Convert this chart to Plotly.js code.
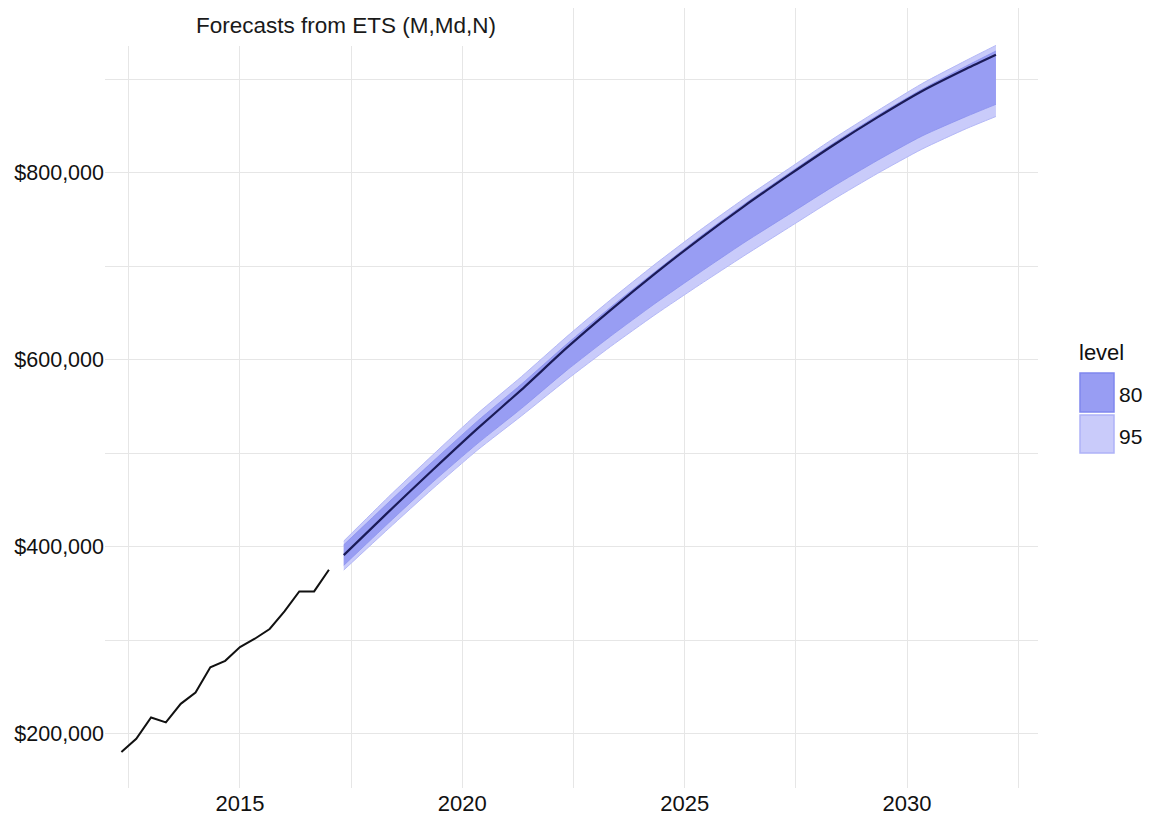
<!DOCTYPE html>
<html>
<head>
<meta charset="utf-8">
<script src="https://cdn.plot.ly/plotly-3.0.1.min.js"></script>
<style>html,body{margin:0;padding:0;background:#fff;}#chart{width:1158px;height:816px;}</style>
</head>
<body>
<div id="chart"></div>
<script>
// ---- Data ----
const histYears = [2012.333, 2012.667, 2013.0, 2013.333, 2013.667, 2014.0, 2014.333, 2014.667, 2015.0, 2015.333, 2015.667, 2016.0, 2016.333, 2016.667, 2017.0];
const histValues = [180400, 194600, 217400, 212100, 232000, 244000, 271000, 278000, 292700, 301600, 312000, 330800, 352200, 352200, 375400];

const fcYears = [2017.333, 2018.333, 2019.333, 2020.333, 2021.333, 2022.333, 2023.333, 2024.333, 2025.333, 2026.333, 2027.333, 2028.333, 2029.333, 2030.333, 2031.333, 2032.0];
const fcMean  = [391000, 437000, 482000, 526000, 568000, 612000, 653000, 692000, 729000, 764000, 797000, 829000, 859000, 887000, 911000, 926000];
const upper95 = [406000, 453000, 498000, 542000, 582000, 624000, 664000, 702000, 738000, 772000, 804000, 836000, 866000, 895000, 920000, 936000];
const upper80 = [402000, 447000, 491000, 534000, 574000, 616000, 656000, 694000, 731000, 766000, 799000, 831000, 861000, 889000, 914000, 930000];
const lower80 = [380000, 425000, 469000, 510000, 548000, 588000, 625000, 660000, 693000, 725000, 755000, 785000, 813000, 839000, 860000, 873000];
const lower95 = [375000, 419000, 462000, 503000, 540000, 578000, 614000, 648000, 680000, 711000, 741000, 771000, 799000, 825000, 847000, 860000];

const levelLabels = ["80", "95"];
const titleText = "Forecasts from ETS (M,Md,N)";
const xTickVals = [2015, 2020, 2025, 2030];
const xTickLabels = ["2015", "2020", "2025", "2030"];
const yTickVals = [200000, 400000, 600000, 800000];
const yTickLabels = ["$200,000", "$400,000", "$600,000", "$800,000"];

// ---- Styles ----
const c80 = '#989df3', c95 = '#c9cbfa';
const e80 = '#8a90ee', e95 = '#b4b8f7';
const FONT = 'Liberation Sans, Arial, sans-serif';

// plot area in pixels
const L = 105, R = 1038, T = 8, B = 788, W = 1158, H = 816;
const px = x => (x - L) / (R - L);
const py = y => (B - y) / (B - T);

const traces = [
  {x: fcYears, y: lower95, mode: 'lines', line: {color: e95, width: 1, shape: 'spline', smoothing: 0.6}, showlegend: false, hoverinfo: 'skip'},
  {x: fcYears, y: upper95, mode: 'lines', fill: 'tonexty', fillcolor: c95, line: {color: e95, width: 1, shape: 'spline', smoothing: 0.6}, showlegend: false, hoverinfo: 'skip'},
  {x: fcYears, y: lower80, mode: 'lines', line: {color: e80, width: 0.8, shape: 'spline', smoothing: 0.6}, showlegend: false, hoverinfo: 'skip'},
  {x: fcYears, y: upper80, mode: 'lines', fill: 'tonexty', fillcolor: c80, line: {color: e80, width: 0.8, shape: 'spline', smoothing: 0.6}, showlegend: false, hoverinfo: 'skip'},
  {x: fcYears, y: fcMean, mode: 'lines', line: {color: '#1b1b58', width: 2.2, shape: 'spline', smoothing: 0.6}, showlegend: false},
  {x: histYears, y: histValues, mode: 'lines', line: {color: '#111111', width: 2}, showlegend: false}
];

const gridCol = '#e6e6e6';
const layout = {
  width: W, height: H,
  margin: {l: L, r: W - R, t: T, b: H - B},
  paper_bgcolor: '#ffffff', plot_bgcolor: '#ffffff',
  font: {family: FONT, color: '#111111'},
  showlegend: false,
  title: {text: titleText, font: {family: FONT, size: 22.5, color: '#1a1a1a'},
          x: px(346), xref: 'paper', xanchor: 'center', y: 1 - 25 / H, yref: 'container', yanchor: 'middle'},
  xaxis: {
    range: [2015 - (240 - L) / 44.47, 2030 + (R - 907) / 44.47],
    tickmode: 'array', tickvals: xTickVals, ticktext: xTickLabels,
    showgrid: true, gridcolor: gridCol, gridwidth: 1,
    minor: {dtick: 2.5, tick0: 2015, showgrid: true, gridcolor: gridCol, gridwidth: 1},
    zeroline: false, showline: false, ticks: '',
    tickfont: {family: FONT, size: 22, color: '#111'}
  },
  yaxis: {
    range: [142000, 976000],
    tickmode: 'array', tickvals: yTickVals, ticktext: yTickLabels,
    showgrid: true, gridcolor: gridCol, gridwidth: 1,
    minor: {dtick: 100000, tick0: 200000, showgrid: true, gridcolor: gridCol, gridwidth: 1},
    zeroline: false, showline: false, ticks: '',
    tickfont: {family: FONT, size: 21.5, color: '#111'}
  },
  shapes: [
    // white box behind the title (title is drawn above it)
    {type: 'rect', xref: 'paper', yref: 'paper', layer: 'above', x0: px(118), x1: px(520), y0: py(46), y1: 1, fillcolor: '#ffffff', line: {width: 0}},
    // legend swatches
    {type: 'rect', xref: 'paper', yref: 'paper', x0: px(1080), x1: px(1114), y0: py(412), y1: py(373), fillcolor: c80, line: {color: '#7f86ee', width: 1.5}},
    {type: 'rect', xref: 'paper', yref: 'paper', x0: px(1080), x1: px(1114), y0: py(453), y1: py(415), fillcolor: c95, line: {color: '#aeb3f7', width: 1.5}}
  ],
  annotations: [
    {text: 'level', xref: 'paper', yref: 'paper', x: px(1077), y: py(352), xanchor: 'left', yanchor: 'middle', showarrow: false, font: {family: FONT, size: 22, color: '#111'}},
    {text: levelLabels[0], xref: 'paper', yref: 'paper', x: px(1117), y: py(394), xanchor: 'left', yanchor: 'middle', showarrow: false, font: {family: FONT, size: 21, color: '#111'}},
    {text: levelLabels[1], xref: 'paper', yref: 'paper', x: px(1117), y: py(436), xanchor: 'left', yanchor: 'middle', showarrow: false, font: {family: FONT, size: 21, color: '#111'}}
  ]
};

Plotly.newPlot('chart', traces, layout, {staticPlot: true, displayModeBar: false});
</script>
</body>
</html>
